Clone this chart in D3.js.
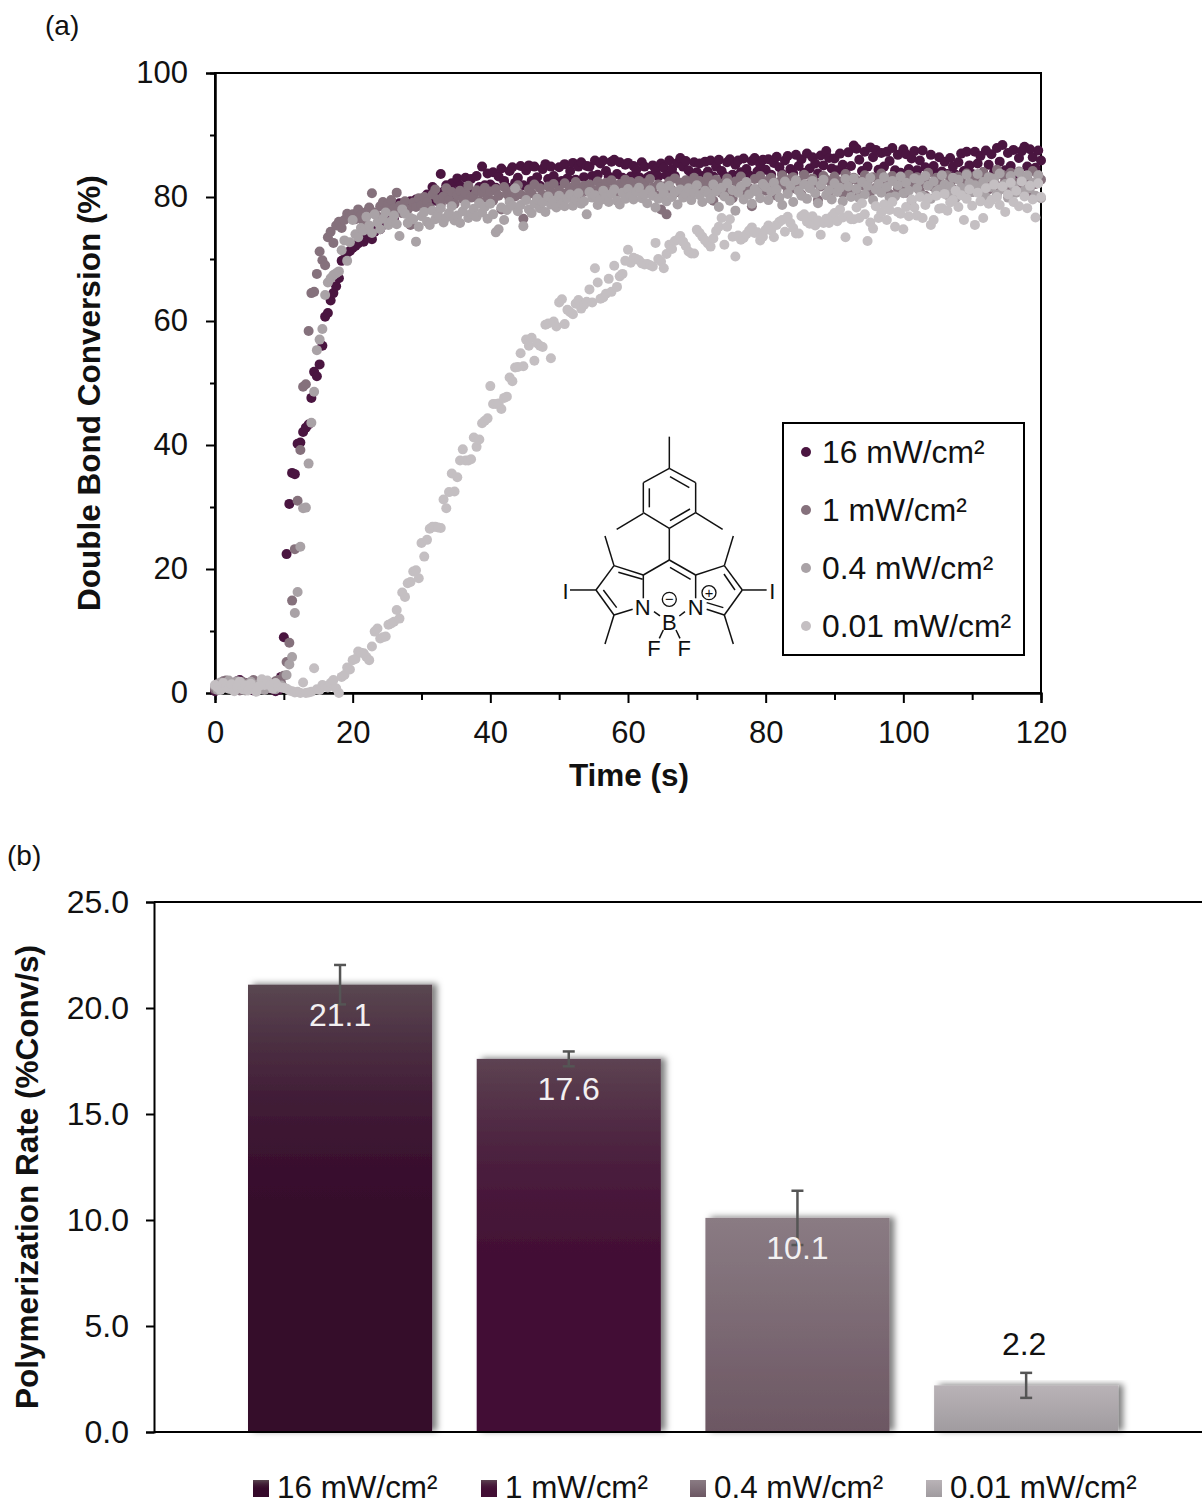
<!DOCTYPE html>
<html>
<head>
<meta charset="utf-8">
<script src="https://cdn.jsdelivr.net/npm/d3@7"></script>
<style>
    body { margin: 0; background: #fff; }
    text { font-family: "Liberation Sans", Arial, sans-serif; fill: #111; }
</style>
</head>
<body>
<script>
//panel (a): one reading every 0.4 s, 25 values per line = 10 s
var sampleStep = 0.4;

var conv16 = [
    0.3,1.0,0.6,1.8,1.7,0.9,1.4,0.5,1.9,2.1,1.1,0.6,1.6,0.8,0.4,1.2,0.9,1.5,0.6,1.0,0.7,1.6,0.3,0.5,2.6,
    9.0,22.4,30.5,35.5,35.3,40.2,40.4,42.1,42.8,43.3,47.6,51.8,51.1,53.0,56.0,60.7,61.3,63.3,64.5,65.6,66.9,69.7,70.0,71.0,71.3,
    71.8,72.1,72.5,73.0,72.8,73.6,74.0,73.2,74.4,75.0,74.8,76.0,75.6,76.5,77.8,76.4,78.0,79.0,77.5,78.2,78.8,79.3,78.6,79.6,78.9,
    79.5,78.2,80.4,78.9,81.6,80.2,79.3,83.7,80.9,81.9,79.6,82.2,80.8,83.0,81.8,80.3,83.1,81.3,82.9,80.7,83.4,81.6,84.9,81.9,83.8,
    82.0,84.0,81.5,83.3,84.6,82.6,81.6,84.2,84.8,82.3,83.1,85.0,81.9,84.3,85.1,82.6,84.9,83.2,81.8,84.5,85.3,82.9,84.9,83.4,82.4,
    84.8,82.6,85.3,83.0,84.2,85.5,82.8,84.9,85.6,83.2,85.0,84.9,83.4,85.9,83.6,85.4,85.9,84.2,83.3,85.7,86.0,83.7,85.6,83.1,85.2,
    85.5,83.3,85.0,84.4,83.2,85.6,84.9,83.1,83.4,85.1,84.4,83.3,85.4,84.7,83.5,85.9,84.5,83.4,85.5,86.3,84.9,85.8,84.3,83.2,85.6,
    84.0,85.4,83.4,85.7,84.1,85.9,83.3,84.9,86.0,84.2,83.4,85.6,86.1,83.6,85.2,85.9,84.0,86.2,84.5,83.5,85.8,86.3,84.1,85.3,86.0,
    84.4,86.1,83.6,85.5,86.5,84.8,83.7,85.9,86.6,84.5,83.8,86.8,85.0,86.1,83.9,87.0,84.6,86.4,85.4,83.8,86.7,85.1,87.4,86.3,84.6,
    86.2,84.3,87.0,85.2,83.9,87.2,85.0,88.3,87.8,86.0,84.2,87.3,84.9,88.0,86.4,87.6,84.4,87.1,84.9,87.3,85.8,87.9,84.3,86.8,83.9,
    87.7,86.9,84.5,86.2,87.4,84.3,85.9,87.5,84.8,83.9,86.8,85.0,83.8,86.4,84.1,85.7,83.7,86.3,84.9,83.6,85.6,87.0,84.2,87.3,85.1,
    83.7,87.3,85.4,86.6,84.0,87.5,85.2,86.9,84.1,87.9,85.7,88.4,84.3,87.1,85.0,87.6,83.8,86.3,87.4,88.1,84.9,87.7,86.4,84.7,87.5,
    85.9
];

var conv1 = [
    0.6,1.5,0.9,1.9,2.0,1.3,0.7,1.6,1.1,0.4,1.8,1.2,0.8,1.5,2.1,0.9,1.3,0.6,1.7,1.2,0.8,1.4,1.9,2.1,1.6,
    2.8,5.0,8.1,14.9,23.2,31.0,39.2,49.4,49.8,58.4,64.5,64.7,67.6,71.2,69.8,69.0,73.5,74.4,72.6,75.4,76.0,75.0,76.3,77.3,76.8,
    77.2,76.4,78.0,77.0,76.0,77.6,78.3,80.6,77.5,76.9,78.5,79.2,77.8,78.9,79.5,78.1,80.7,78.6,77.4,79.3,78.0,75.5,79.1,78.4,79.8,
    78.7,80.0,79.2,78.3,80.4,81.2,79.6,78.8,80.1,81.4,79.5,80.8,78.9,80.3,81.0,79.7,80.6,81.8,79.9,80.2,81.1,79.3,80.7,81.5,79.8,
    80.9,79.4,81.3,80.2,78.0,81.6,80.5,79.7,81.0,80.1,81.9,80.4,76.5,79.9,81.2,80.6,82.0,79.8,81.4,80.3,79.5,81.7,80.8,82.1,80.5,
    81.1,79.9,82.2,80.7,81.5,80.2,82.4,81.3,79.6,81.8,80.9,82.0,81.2,80.4,82.5,81.6,80.8,82.3,81.0,82.7,81.4,80.6,82.1,81.7,82.8,
    81.2,82.4,80.9,81.8,82.6,81.0,82.2,80.7,82.9,81.5,80.3,82.0,78.0,81.7,77.2,82.5,81.1,83.0,80.8,82.3,81.6,82.7,80.5,81.9,83.1,
    81.3,82.6,80.9,82.0,83.2,81.5,79.4,82.8,81.8,80.6,82.3,83.0,81.1,79.8,82.5,81.7,83.3,80.7,82.1,81.4,78.5,82.9,81.2,83.4,82.2,
    81.0,82.7,83.1,81.6,80.2,82.4,83.5,81.9,80.8,82.9,83.2,81.3,82.6,80.4,83.6,82.0,81.5,83.0,82.3,79.5,81.7,83.4,82.8,80.9,82.1,
    83.3,81.8,82.5,80.6,83.7,82.2,81.2,83.1,82.7,80.3,81.9,83.5,82.4,80.8,83.2,81.5,82.9,83.8,81.1,82.0,80.5,83.4,82.6,81.4,83.0,
    82.1,80.7,83.6,81.7,82.8,83.2,81.0,82.4,80.2,83.9,82.3,81.6,83.1,82.7,80.9,81.8,83.5,82.2,81.3,80.4,83.3,82.6,81.9,83.8,82.0,
    80.8,83.4,82.5,81.5,84.0,82.9,81.2,83.1,82.2,84.4,81.7,83.6,82.7,81.0,83.9,82.4,81.4,84.1,82.8,81.9,83.3,80.6,84.2,82.1,83.5,
    82.8
];

var conv04 = [
    1.1,0.5,1.7,0.8,1.4,2.0,0.6,1.2,1.9,0.9,1.5,0.4,1.1,1.8,0.7,1.3,1.0,1.6,0.5,1.2,0.8,1.4,0.6,1.0,1.2,
    0.9,2.9,4.6,5.8,12.9,16.3,23.6,29.8,29.9,37.0,43.6,48.6,55.3,57.0,58.7,64.2,66.2,66.9,67.4,67.7,68.0,71.4,73.0,69.7,72.7,
    76.3,74.0,73.5,75.0,74.6,76.8,75.4,74.2,77.2,75.9,74.8,76.5,77.5,75.5,76.1,77.0,75.6,73.7,78.0,77.3,75.8,76.6,76.4,72.8,75.2,
    76.9,77.6,76.0,75.5,77.8,76.4,77.1,78.2,75.9,76.7,77.4,78.5,76.2,77.0,75.8,77.7,78.8,76.6,77.3,78.1,76.8,79.0,77.5,78.4,76.5,
    78.9,77.2,74.3,74.8,78.3,76.3,77.9,79.2,78.6,81.4,77.7,78.7,75.3,79.5,78.0,77.4,78.9,79.7,78.2,79.1,77.6,80.1,78.8,79.4,78.3,
    80.2,79.0,78.5,79.8,80.4,78.6,79.6,80.6,78.9,79.3,77.2,80.8,79.9,80.3,78.7,79.5,81.0,80.0,79.2,80.5,81.2,79.4,78.8,80.7,79.7,
    81.3,80.1,79.6,80.9,81.5,79.8,80.4,79.0,81.1,80.2,78.3,79.7,81.6,80.6,79.3,81.8,80.0,80.8,78.8,81.2,79.9,80.5,81.4,79.5,80.7,
    81.9,80.3,79.2,81.0,80.6,79.7,82.0,80.9,78.4,81.5,80.1,82.2,79.4,81.1,77.8,80.7,81.7,79.6,82.4,80.4,78.9,81.3,80.8,79.8,82.1,
    81.6,79.5,80.9,82.3,81.2,79.9,78.7,82.5,80.5,81.8,79.2,82.7,81.0,80.2,82.0,79.7,81.4,82.6,80.6,79.0,81.9,82.8,80.3,81.1,79.6,
    82.2,80.8,81.5,79.3,82.9,81.7,80.0,83.0,81.3,79.8,82.4,80.4,81.8,83.1,79.5,81.2,82.1,80.7,83.2,81.6,79.9,82.6,80.1,81.9,83.3,
    80.6,82.3,81.0,79.4,83.0,81.4,82.7,80.2,83.4,81.8,79.7,82.5,80.9,81.2,83.5,82.0,80.3,81.7,83.1,79.8,82.8,81.5,80.5,83.6,82.2,
    80.8,81.9,83.7,81.1,82.4,80.0,83.2,81.6,82.9,80.4,83.8,81.3,82.1,79.9,83.4,81.8,80.7,84.0,82.6,81.0,83.5,81.4,82.3,80.2,83.5,
    79.8
];

var conv001 = [
    1.3,0.9,0.5,1.6,1.1,0.7,1.4,0.3,1.0,1.8,0.6,1.2,0.4,1.5,0.8,0.2,1.1,2.2,1.3,2.0,1.2,0.7,1.6,1.0,0.9,
    0.8,0.7,0.4,0.3,0.1,0.2,0.0,1.7,0.0,0.1,0.2,4.0,0.6,0.5,1.3,1.1,0.9,1.6,2.1,0.75,0.0,2.6,2.9,4.1,3.8,
    5.3,5.5,6.7,6.5,6.4,5.8,5.3,7.5,9.9,10.4,8.8,9.0,9.1,11.0,11.2,11.5,13.4,12.0,16.2,15.5,17.7,17.9,19.6,19.8,18.5,
    24.2,22.0,24.7,26.5,26.8,26.8,26.7,26.6,31.2,29.8,32.4,35.4,32.5,34.8,37.5,39.3,37.5,37.5,37.7,41.2,39.7,40.9,43.5,43.9,44.3,
    49.5,46.6,46.6,46.7,45.8,47.6,47.8,50.9,50.3,52.5,52.6,54.8,52.7,57.0,56.0,57.3,53.6,56.4,56.0,55.8,59.4,59.6,54.0,59.9,59.1,
    63.0,63.5,59.5,61.8,61.4,61.1,62.8,63.4,62.0,62.6,63.1,65.1,63.0,68.5,66.2,63.6,63.8,64.4,66.8,64.7,68.9,65.5,67.2,67.6,69.7,
    71.5,69.4,70.2,70.0,69.8,69.3,69.1,69.2,69.0,68.8,72.6,70.0,69.6,68.5,70.8,72.3,71.6,72.9,73.1,73.7,72.8,72.1,71.2,70.9,70.9,
    74.7,74.2,73.6,73.0,72.5,72.0,73.3,74.5,75.2,76.6,72.3,75.2,76.4,73.6,70.4,73.8,73.1,73.4,74.0,74.6,75.1,74.2,74.3,73.0,73.6,
    74.7,75.4,74.6,73.5,75.5,76.0,76.3,74.4,76.8,75.8,75.0,74.1,74.1,76.9,77.2,76.0,75.7,76.9,75.4,76.2,73.9,75.8,76.5,75.8,76.9,
    77.4,76.1,78.0,76.7,73.5,77.0,76.4,76.4,78.3,76.6,79.0,77.2,72.9,75.9,74.9,78.5,76.6,77.5,78.8,76.3,77.9,79.2,75.2,77.6,77.3,
    74.8,78.4,76.9,79.6,78.3,77.0,80.0,76.6,78.7,79.8,75.5,76.3,80.2,78.1,78.2,80.5,77.8,79.1,79.5,81.0,78.4,80.3,76.3,79.7,81.2,
    78.6,75.5,80.7,79.3,76.6,81.4,78.9,79.5,82.0,80.0,78.7,81.7,77.6,80.4,82.3,79.2,81.0,78.5,82.5,80.1,78.2,81.8,79.6,76.7,82.2,
    80.0
];

var scatterLabels = ["16 mW/cm²", "1 mW/cm²", "0.4 mW/cm²", "0.01 mW/cm²"];
var scatterColors = ["#4a1540", "#85717c", "#a9a2a6", "#c4bfc2"];
var scatterSeries = [conv16, conv1, conv04, conv001];

//panel (b)
var barLabels = ["16 mW/cm²", "1 mW/cm²", "0.4 mW/cm²", "0.01 mW/cm²"];
var barValues = [21.1, 17.6, 10.1, 2.2];
var barErrors = [0.93, 0.35, 1.28, 0.59];
var barTop = ["#5a4751", "#5d4352", "#8a7b83", "#b9b3b7"];
var barBottom = ["#35092a", "#420e34", "#6c5763", "#a09b9f"];
var barFlatFrom = [60, 65, 100, 100]; //% of the height where the gradient reaches its end colour

var w = 1202, h = 1504;

var svg = d3.select("body")
    .append("svg")
    .attr("width", w)
    .attr("height", h)
    .style("display", "block");

//soft shadow behind the bars
var defs = svg.append("defs");
defs.append("filter")
    .attr("id", "barShadow")
    .attr("x", "-10%").attr("y", "-10%")
    .attr("width", "125%").attr("height", "125%")
    .append("feDropShadow")
    .attr("dx", 5).attr("dy", -1)
    .attr("stdDeviation", 3)
    .attr("flood-color", "#000")
    .attr("flood-opacity", 0.5);

barTop.forEach(function(c, i){
    var grad = defs.append("linearGradient")
        .attr("id", "barGrad" + i)
        .attr("x1", 0).attr("y1", 0)
        .attr("x2", 0).attr("y2", 1);
    var mix = d3.interpolateRgb(c, barBottom[i]);
    //eased stops so the dark end has no visible edge
    [0, 0.2, 0.4, 0.6, 0.8, 1].forEach(function(f){
        grad.append("stop")
            .attr("offset", (f * barFlatFrom[i]) + "%")
            .attr("stop-color", mix(barFlatFrom[i] == 100 ? f : d3.easeQuadOut(f)));
    });
});

svg.append("text").attr("x", 45).attr("y", 35).attr("font-size", 28).text("(a)");
svg.append("text").attr("x", 7).attr("y", 865).attr("font-size", 28).text("(b)");

// ---- panel (a) ----
var xA = d3.scaleLinear().domain([0, 120]).range([215, 1041]);
var yA = d3.scaleLinear().domain([0, 100]).range([693, 73]);

var gA = svg.append("g");

var xAxisA = d3.axisBottom(xA).tickValues(d3.range(0, 121, 20)).tickSize(10).tickPadding(18);
var xMinorA = d3.axisBottom(xA).tickValues(d3.range(10, 120, 20)).tickSize(7).tickFormat("");
var yAxisA = d3.axisLeft(yA).tickValues(d3.range(0, 101, 20)).tickSize(9).tickPadding(18);
var yMinorA = d3.axisLeft(yA).tickValues(d3.range(10, 100, 20)).tickSize(5).tickFormat("");

function styleAxis(g, size){
    g.selectAll("path").attr("stroke", "#000").attr("stroke-width", 2);
    g.selectAll("line").attr("stroke", "#000").attr("stroke-width", 2);
    g.selectAll("text")
        .attr("font-family", "Liberation Sans")
        .attr("font-size", size)
        .attr("fill", "#111");
}

gA.append("g").attr("transform", "translate(0,693)").call(xMinorA).call(styleAxis, 31);
gA.append("g").attr("transform", "translate(0,693)").call(xAxisA).call(styleAxis, 31);
gA.append("g").attr("transform", "translate(215,0)").call(yMinorA).call(styleAxis, 31);
gA.append("g").attr("transform", "translate(215,0)").call(yAxisA).call(styleAxis, 31);

//frame
gA.append("rect")
    .attr("x", xA(0)).attr("y", yA(100))
    .attr("width", xA(120) - xA(0))
    .attr("height", yA(0) - yA(100))
    .attr("fill", "none")
    .attr("stroke", "#000")
    .attr("stroke-width", 2);

scatterSeries.forEach(function(values, s){
    gA.append("g").selectAll("circle")
        .data(values)
        .enter()
        .append("circle")
        .attr("cx", function(d, i){ return xA(i * sampleStep); })
        .attr("cy", function(d){ return yA(d); })
        .attr("r", 5)
        .attr("fill", scatterColors[s]);
});

svg.append("text")
    .attr("text-anchor", "middle")
    .attr("x", 629).attr("y", 786)
    .attr("font-size", 31.5)
    .attr("font-weight", "bold")
    .text("Time (s)");

svg.append("text")
    .attr("text-anchor", "middle")
    .attr("transform", "translate(100,393) rotate(-90)")
    .attr("font-size", 31.5)
    .attr("font-weight", "bold")
    .text("Double Bond Conversion (%)");

//legend of panel (a)
svg.append("rect")
    .attr("x", 783).attr("y", 423)
    .attr("width", 241).attr("height", 232)
    .attr("fill", "#fff")
    .attr("stroke", "#000")
    .attr("stroke-width", 2);

var legendY = d3.scalePoint().domain(scatterLabels).range([452, 626]);
var legA = svg.append("g").selectAll("g")
    .data(scatterLabels)
    .enter()
    .append("g")
    .attr("transform", function(d){ return "translate(806," + legendY(d) + ")"; });
legA.append("circle")
    .attr("r", 5)
    .attr("fill", function(d, i){ return scatterColors[i]; });
legA.append("text")
    .attr("x", 16).attr("y", 11)
    .attr("font-size", 31.8)
    .text(function(d){ return d; });

//molecule, coordinates in px of the sketch (origin 550,420, drawn at 1/3)
var bonds = [
    [358,50,358,145],
    [358,145,437,188],[437,188,437,278],[437,278,358,325],[358,325,280,278],[280,278,280,188],[280,188,358,145],
    [360,170,418,203],[298,205,298,262],[360,302,420,267],
    [280,280,200,328],[437,278,518,328],[358,325,358,420],
    [358,420,280,465],[358,420,437,465],[360,442,422,478],
    [280,465,192,437],[278,478,205,457],[192,437,138,510],[138,510,192,585],[160,510,200,563],[192,585,248,568],
    [280,465,280,535],[192,437,165,348],[192,585,165,672],[60,510,138,510],
    [437,465,437,535],[437,465,523,437],[523,437,577,510],[522,462,555,510],[577,510,523,585],[523,585,470,568],[470,548,520,563],
    [523,437,550,348],[523,585,550,672],[577,510,650,510],
    [312,575,330,588],[405,575,388,588],[340,630,328,655],[378,630,390,655]
];
var atoms = [
    ["I",47,512],["N",278,560],["B",358,607],["N",437,560],["F",312,685],["F",403,685],["I",667,512]
];
var charges = [["−",358,538],["+",477,518]];

var mol = svg.append("g").attr("transform", "translate(550,420) scale(0.3333)");
mol.selectAll(".bond")
    .data(bonds)
    .enter()
    .append("line")
    .attr("class", "bond")
    .attr("x1", function(d){ return d[0]; })
    .attr("y1", function(d){ return d[1]; })
    .attr("x2", function(d){ return d[2]; })
    .attr("y2", function(d){ return d[3]; })
    .attr("stroke", "#111")
    .attr("stroke-width", 4.5);
mol.selectAll(".atom")
    .data(atoms)
    .enter()
    .append("text")
    .attr("class", "atom")
    .attr("text-anchor", "middle")
    .attr("x", function(d){ return d[1]; })
    .attr("y", function(d){ return d[2] + 24; })
    .attr("font-size", 66)
    .text(function(d){ return d[0]; });
mol.selectAll(".chargeRing")
    .data(charges)
    .enter()
    .append("circle")
    .attr("class", "chargeRing")
    .attr("cx", function(d){ return d[1]; })
    .attr("cy", function(d){ return d[2]; })
    .attr("r", 21)
    .attr("fill", "none")
    .attr("stroke", "#111")
    .attr("stroke-width", 4);
mol.selectAll(".charge")
    .data(charges)
    .enter()
    .append("text")
    .attr("class", "charge")
    .attr("text-anchor", "middle")
    .attr("x", function(d){ return d[1]; })
    .attr("y", function(d){ return d[2] + 15; })
    .attr("font-size", 44)
    .text(function(d){ return d[0]; });

// ---- panel (b) ----
var yB = d3.scaleLinear().domain([0, 25]).range([1432, 902]);
var xB = d3.scaleBand()
    .domain(barLabels)
    .range([225.7, 1140.5])
    .paddingInner(0.195)
    .paddingOuter(0.0975);

var gB = svg.append("g");

gB.selectAll(".bar")
    .data(barValues)
    .enter()
    .append("rect")
    .attr("class", "bar")
    .attr("x", function(d, i){ return xB(barLabels[i]); })
    .attr("y", function(d){ return yB(d); })
    .attr("width", xB.bandwidth())
    .attr("height", function(d){ return yB(0) - yB(d); })
    .attr("fill", function(d, i){ return "url(#barGrad" + i + ")"; })
    .attr("filter", "url(#barShadow)");

var yAxisB = d3.axisLeft(yB).tickValues(d3.range(0, 26, 5)).tickSize(8).tickPadding(17).tickFormat(d3.format(".1f"));
gB.append("g").attr("transform", "translate(154,0)").call(yAxisB).call(styleAxis, 32);

gB.append("line").attr("x1", 154).attr("x2", w).attr("y1", yB(25)).attr("y2", yB(25))
    .attr("stroke", "#000").attr("stroke-width", 2);
gB.append("line").attr("x1", 154).attr("x2", w).attr("y1", yB(0)).attr("y2", yB(0))
    .attr("stroke", "#000").attr("stroke-width", 2);

//error bars
var errs = gB.selectAll(".err")
    .data(barValues)
    .enter()
    .append("g")
    .attr("class", "err")
    .attr("stroke", "#555")
    .attr("stroke-width", 2.5);
errs.append("line")
    .attr("x1", function(d, i){ return xB(barLabels[i]) + xB.bandwidth() / 2; })
    .attr("x2", function(d, i){ return xB(barLabels[i]) + xB.bandwidth() / 2; })
    .attr("y1", function(d, i){ return yB(d + barErrors[i]); })
    .attr("y2", function(d, i){ return yB(d - barErrors[i]); });
[1, -1].forEach(function(sign){
    errs.append("line")
        .attr("x1", function(d, i){ return xB(barLabels[i]) + xB.bandwidth() / 2 - 6; })
        .attr("x2", function(d, i){ return xB(barLabels[i]) + xB.bandwidth() / 2 + 6; })
        .attr("y1", function(d, i){ return yB(d + sign * barErrors[i]); })
        .attr("y2", function(d, i){ return yB(d + sign * barErrors[i]); });
});

//value labels, the last one sits above its short bar
gB.selectAll(".val")
    .data(barValues)
    .enter()
    .append("text")
    .attr("class", "val")
    .attr("text-anchor", "middle")
    .attr("x", function(d, i){ return xB(barLabels[i]) + xB.bandwidth() / 2 - (i == 3 ? 2 : 0); })
    .attr("y", function(d, i){ return i == 3 ? yB(d) - 30 : yB(d) + 41; })
    .attr("font-size", 32)
    .style("fill", function(d, i){ return i == 3 ? "#111" : "#f2f0f1"; })
    .text(function(d){ return d3.format(".1f")(d); });

svg.append("text")
    .attr("text-anchor", "middle")
    .attr("transform", "translate(38,1177) rotate(-90)")
    .attr("font-size", 31.5)
    .attr("font-weight", "bold")
    .text("Polymerization Rate (%Conv/s)");

//legend of panel (b)
var legendX = [253, 481, 690, 926];
var legB = svg.append("g").selectAll("g")
    .data(barLabels)
    .enter()
    .append("g")
    .attr("transform", function(d, i){ return "translate(" + legendX[i] + ",1480)"; });
legB.append("rect")
    .attr("width", 16).attr("height", 17)
    .attr("fill", function(d, i){ return "url(#barGrad" + i + ")"; });
legB.append("text")
    .attr("x", 24).attr("y", 18)
    .attr("font-size", 31.4)
    .text(function(d){ return d; });
</script>
</body>
</html>
